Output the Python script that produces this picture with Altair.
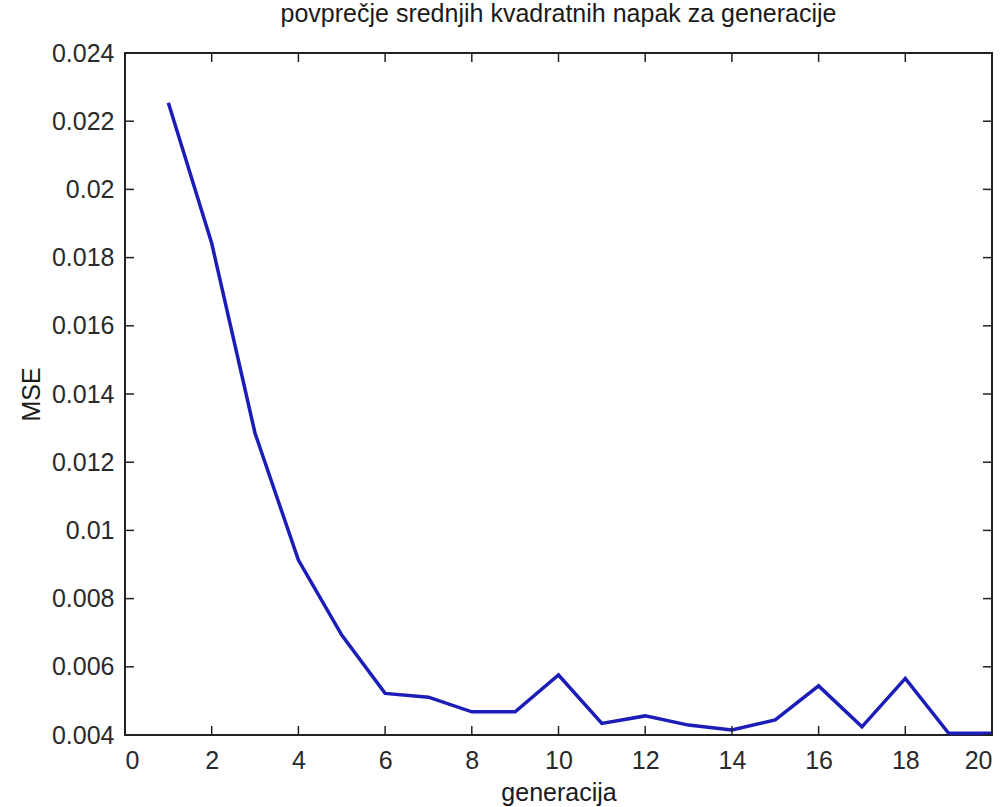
import altair as alt
import pandas as pd

# Average MSE per generation
generacija = list(range(1, 21))
mse = [0.02254, 0.01842, 0.01285, 0.00913, 0.00693, 0.00522, 0.00511, 0.00468,
       0.00468, 0.00576, 0.00434, 0.00456, 0.00429, 0.00415, 0.00444, 0.00544,
       0.00424, 0.00566, 0.00405, 0.00405]

x_ticks = [0, 2, 4, 6, 8, 10, 12, 14, 16, 18, 20]
y_ticks = [0.004, 0.006, 0.008, 0.01, 0.012, 0.014, 0.016, 0.018, 0.02, 0.022, 0.024]

W, H = 867, 682
TICK = 9
FONT = "Liberation Sans"
FS = 25

df = pd.DataFrame({"generacija": generacija, "MSE": mse})
xt = pd.DataFrame({"t": x_ticks})
yt = pd.DataFrame({"t": y_ticks})

xscale = alt.Scale(domain=[0, 20], nice=False, zero=False)
yscale = alt.Scale(domain=[0.004, 0.024], nice=False, zero=False)

line = alt.Chart(df).mark_line(color="#1c1cb8", strokeWidth=3.5).encode(
    x=alt.X("generacija:Q", scale=xscale, title="generacija",
            axis=alt.Axis(values=x_ticks, tickSize=0, domain=False, grid=False,
                          labelPadding=13, titlePadding=7, format="d")),
    y=alt.Y("MSE:Q", scale=yscale, title="MSE",
            axis=alt.Axis(values=y_ticks, tickSize=0, domain=False, grid=False,
                          labelPadding=11, titlePadding=7, format="~g")),
)

# Inward ticks on all four sides of the box
tick_color = "#222222"
bottom = alt.Chart(xt).mark_rule(color=tick_color, strokeWidth=1.5).encode(
    x=alt.X("t:Q", scale=xscale), y=alt.value(H), y2=alt.value(H - TICK))
top = alt.Chart(xt).mark_rule(color=tick_color, strokeWidth=1.5).encode(
    x=alt.X("t:Q", scale=xscale), y=alt.value(0), y2=alt.value(TICK))
left = alt.Chart(yt).mark_rule(color=tick_color, strokeWidth=1.5).encode(
    y=alt.Y("t:Q", scale=yscale), x=alt.value(0), x2=alt.value(TICK))
right = alt.Chart(yt).mark_rule(color=tick_color, strokeWidth=1.5).encode(
    y=alt.Y("t:Q", scale=yscale), x=alt.value(W), x2=alt.value(W - TICK))

chart = alt.layer(line, bottom, top, left, right).properties(
    width=W, height=H,
    background="white",
    title=alt.Title("povprečje srednjih kvadratnih napak za generacije",
                    font=FONT, fontSize=FS, fontWeight="normal", color="#1a1a1a",
                    anchor="middle", offset=14),
    autosize=alt.AutoSizeParams(type="none"),
    padding={"left": 125, "top": 53, "right": 10, "bottom": 72},
).configure_view(
    stroke="#222222", strokeWidth=2
).configure_axis(
    labelFont=FONT, labelFontSize=FS, labelColor="#2a2a2a",
    titleFont=FONT, titleFontSize=FS, titleFontWeight="normal", titleColor="#1a1a1a",
)

chart.save("out.html", embed_options={"renderer": "svg", "actions": False})
